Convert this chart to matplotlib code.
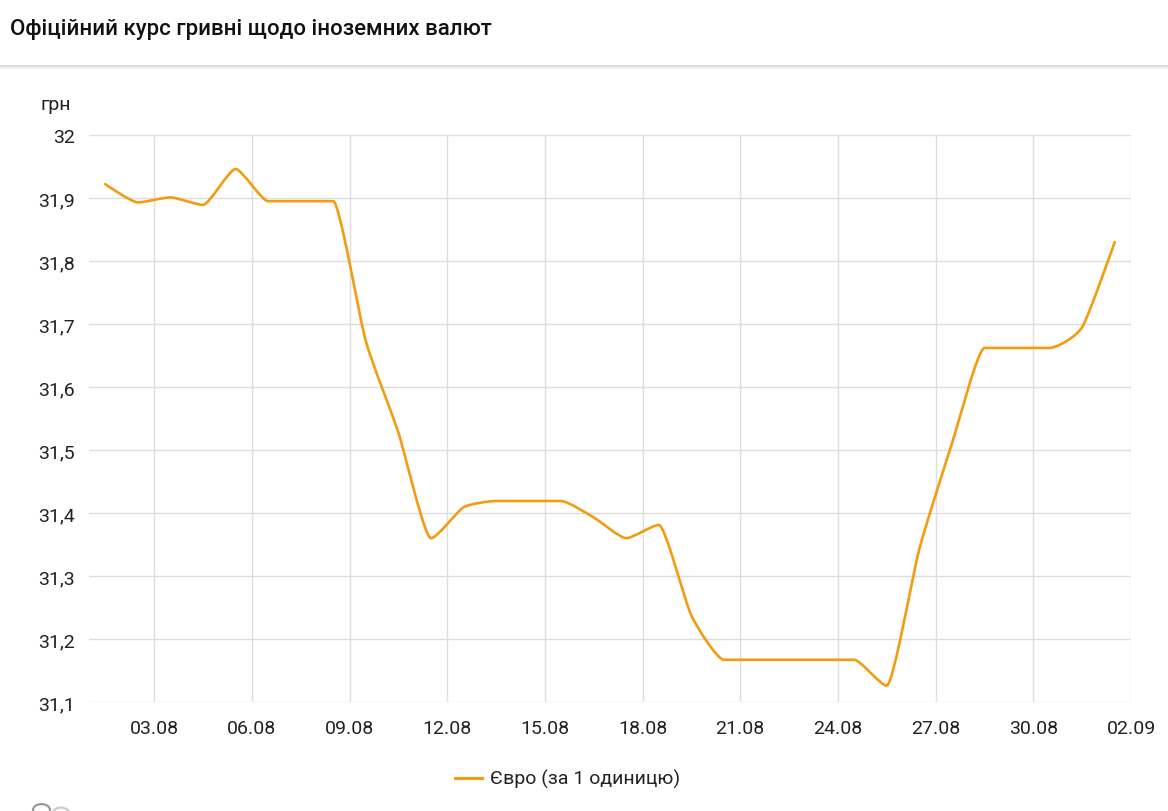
import numpy as np
import pandas as pd
import matplotlib
matplotlib.use("Agg")
import matplotlib.pyplot as plt
from matplotlib.path import Path
from matplotlib.patches import PathPatch, Circle, Rectangle
from matplotlib.lines import Line2D

plt.rcParams['font.family'] = ['Roboto', 'DejaVu Sans']

# official EUR rate, one value per day 01.08 - 01.09
dates = pd.date_range("2021-08-01", "2021-09-01", freq="D")
eur = [31.922, 31.893, 31.901, 31.889, 31.946, 31.895, 31.895, 31.895,
       31.673, 31.528, 31.360, 31.409, 31.419, 31.419, 31.419, 31.393,
       31.360, 31.381, 31.237, 31.167, 31.167, 31.167, 31.167, 31.167,
       31.126, 31.343, 31.510, 31.662, 31.662, 31.662, 31.695, 31.830]
tick_labels = ["03.08", "06.08", "09.08", "12.08", "15.08", "18.08",
               "21.08", "24.08", "27.08", "30.08", "02.09"]
y_ticks = [31.1, 31.2, 31.3, 31.4, 31.5, 31.6, 31.7, 31.8, 31.9, 32.0]

title = "Офіційний курс гривні щодо іноземних валют"
unit = "грн"
series_name = "Євро (за 1 одиницю)"
line_color = "#f39c12"
txt_color = "#222222"

W, H = 1168, 812
fig = plt.figure(figsize=(W / 100, H / 100), dpi=100)
fig.patch.set_facecolor("white")

# header + separator shadow (4px gradient band)
fig.text(10 / W, 1 - 30 / H, title, fontsize=16, fontweight="medium",
         color="#111111", va="center", ha="left")
for k, c in enumerate(["#d9d9d9", "#e3e3e3", "#ececec", "#f5f5f5"]):
    fig.add_artist(Rectangle((0, 1 - (67 + k) / H), 1, 1 / H, facecolor=c,
                             edgecolor="none", transform=fig.transFigure))

ax = fig.add_axes([89 / W, 1 - 703 / H, (1131 - 89) / W, (703 - 136) / H])

# x as days since 01.08, point placed mid-day
x = np.array([(d - dates[0]).days + 0.5 for d in dates])
y = np.array(eur)


def spline_path(xs, ys, smoothing=4.0):
    # spline with control points pulled toward neighbours,
    # clamped so no false extremes appear
    denom = smoothing + 1
    n = len(xs)
    right = [None] * n
    verts = [(xs[0], ys[0])]
    codes = [Path.MOVETO]
    for i in range(1, n):
        px, py = xs[i], ys[i]
        lx, ly = px, py
        if i < n - 1:
            ax_, ay_ = xs[i - 1], ys[i - 1]
            nx_, ny_ = xs[i + 1], ys[i + 1]
            lx = (smoothing * px + ax_) / denom
            ly = (smoothing * py + ay_) / denom
            rx = (smoothing * px + nx_) / denom
            ry = (smoothing * py + ny_) / denom
            corr = 0
            if rx != lx:
                corr = (ry - ly) * (rx - px) / (rx - lx) + py - ry
            ly += corr
            ry += corr
            if ly > ay_ and ly > py:
                ly = max(ay_, py); ry = 2 * py - ly
            elif ly < ay_ and ly < py:
                ly = min(ay_, py); ry = 2 * py - ly
            if ry > ny_ and ry > py:
                ry = max(ny_, py); ly = 2 * py - ry
            elif ry < ny_ and ry < py:
                ry = min(ny_, py); ly = 2 * py - ry
            right[i] = (rx, ry)
        prev = right[i - 1] if right[i - 1] is not None else (xs[i - 1], ys[i - 1])
        verts += [prev, (lx, ly), (px, py)]
        codes += [Path.CURVE4] * 3
    return Path(verts, codes)


ax.add_patch(PathPatch(spline_path(x, y), facecolor="none",
                       edgecolor=line_color, lw=1.9, capstyle="round",
                       joinstyle="round", zorder=3))

tick_pos = [(pd.Timestamp(f"2021-{t[3:]}-{t[:2]}") - dates[0]).days for t in tick_labels]
ax.set_xlim(0, 32)
ax.set_ylim(31.1, 32.0)
ax.set_xticks(tick_pos)
ax.set_xticklabels(tick_labels)
ax.set_yticks(y_ticks)
ax.set_yticklabels([f"{v:.1f}".replace(".", ",").replace("32,0", "32") for v in y_ticks])
ax.grid(True, color="#dddddd", lw=1)
ax.set_axisbelow(True)
for sp in ax.spines.values():
    sp.set_visible(False)
ax.tick_params(length=0, labelsize=14, colors=txt_color)
ax.tick_params(axis="y", pad=10)
ax.tick_params(axis="x", pad=12)

fig.text(40 / W, 1 - 105 / H, unit, fontsize=14, color=txt_color,
         ha="left", va="center")

# legend
fig.add_artist(Line2D([455 / W, 482 / W], [1 - 779 / H] * 2, color=line_color,
                      lw=2.2, transform=fig.transFigure))
fig.text(490 / W, 1 - 779 / H, series_name, fontsize=14, color=txt_color,
         ha="left", va="center")

# cut-off logo at bottom left
for cx, cy, r, col in ((41.5, 811, 8.5, "#999999"), (61, 814.5, 8.5, "#cccccc")):
    fig.add_artist(Circle((cx / W, 1 - cy / H), r / W, transform=fig.transFigure,
                          fill=False, edgecolor=col, lw=1.6))

fig.savefig("out.png", dpi=100, facecolor="white")
